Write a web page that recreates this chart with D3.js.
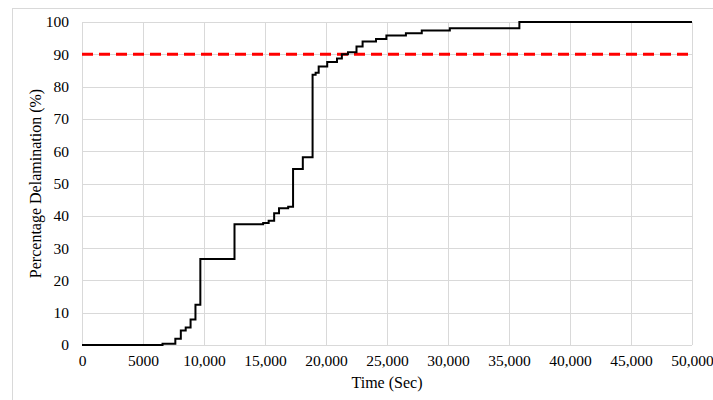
<!DOCTYPE html>
<html>
<head>
<meta charset="utf-8">
<script src="https://cdn.jsdelivr.net/npm/d3@7"></script>
<style>
  html, body { margin: 0; padding: 0; background: #fff; }
  svg { display: block; }
</style>
</head>
<body>
<svg id="chart" width="713" height="400"></svg>
<script>
// ---- data ----
const times = [0, 6600, 7650, 8100, 8500, 8900, 9300, 9700, 12500, 14850, 15300, 15750, 16150, 16900, 17300, 18100, 18900, 19150, 19400, 20100, 20900, 21300, 21800, 22500, 23000, 24100, 24950, 26550, 27850, 30150, 35850, 50000];
const delamination = [0, 0.4, 1.9, 4.5, 5.4, 7.9, 12.5, 26.6, 37.4, 37.8, 38.5, 40.8, 42.3, 42.8, 54.5, 58.1, 83.7, 84.3, 86.2, 87.6, 88.7, 90.0, 90.6, 92.4, 94.0, 94.7, 95.8, 96.5, 97.4, 98.1, 100, 100];
const threshold = 90;
const xTicks = [0, 5000, 10000, 15000, 20000, 25000, 30000, 35000, 40000, 45000, 50000];
const xTickLabels = ["0", "5000", "10,000", "15,000", "20,000", "25,000", "30,000", "35,000", "40,000", "45,000", "50,000"];
const yTicks = [0, 10, 20, 30, 40, 50, 60, 70, 80, 90, 100];
const xTitle = "Time (Sec)";
const yTitle = "Percentage Delamination (%)";

(function () {
// ---- layout ----
const svg = d3.select("#chart");
const mLeft = 82, mRight = 692, mTop = 22, mBottom = 345;
const font = "'Liberation Serif', 'Times New Roman', serif";

const x = d3.scaleLinear().domain([0, 50000]).range([mLeft, mRight]);
const y = d3.scaleLinear().domain([0, 100]).range([mBottom, mTop]);

// outer chart border
svg.append("rect")
  .attr("x", 12.5).attr("y", 8.5).attr("width", 720).attr("height", 420)
  .attr("fill", "none").attr("stroke", "#d9d9d9").attr("stroke-width", 1);

// gridlines
svg.append("g").selectAll("line").data(yTicks).join("line")
  .attr("x1", mLeft).attr("x2", mRight)
  .attr("y1", d => Math.round(y(d)) + 0.5).attr("y2", d => Math.round(y(d)) + 0.5)
  .attr("stroke", "#d9d9d9").attr("stroke-width", 1);
svg.append("g").selectAll("line").data(xTicks).join("line")
  .attr("y1", mTop).attr("y2", mBottom)
  .attr("x1", d => Math.round(x(d)) + 0.5).attr("x2", d => Math.round(x(d)) + 0.5)
  .attr("stroke", "#d9d9d9").attr("stroke-width", 1);

// axes (labels only)
const xAxis = d3.axisBottom(x).tickValues(xTicks).tickSize(0).tickPadding(10)
  .tickFormat((d, i) => xTickLabels[i]);
const gx = svg.append("g").attr("transform", `translate(0,${mBottom})`).call(xAxis);
gx.select(".domain").remove();
gx.selectAll("text").attr("font-family", font).attr("font-size", 15.5).attr("fill", "#000");

const yAxis = d3.axisLeft(y).tickValues(yTicks).tickSize(0).tickPadding(13);
const gy = svg.append("g").attr("transform", `translate(${mLeft},0)`).call(yAxis);
gy.select(".domain").remove();
gy.selectAll("text").attr("font-family", font).attr("font-size", 15.5).attr("fill", "#000");

// threshold line
svg.append("line")
  .attr("x1", mLeft).attr("x2", mRight)
  .attr("y1", y(threshold)).attr("y2", y(threshold))
  .attr("stroke", "#ff0000").attr("stroke-width", 3)
  .attr("stroke-dasharray", "11,6");

// step curve
const pts = times.map((t, i) => [t, delamination[i]]);
const line = d3.line().x(d => x(d[0])).y(d => y(d[1])).curve(d3.curveStepAfter);
svg.append("path")
  .datum(pts)
  .attr("d", line)
  .attr("fill", "none").attr("stroke", "#000").attr("stroke-width", 2);

// titles
svg.append("text")
  .attr("x", (mLeft + mRight) / 2).attr("y", 388)
  .attr("text-anchor", "middle")
  .attr("font-family", font).attr("font-size", 16).attr("fill", "#000")
  .text(xTitle);
svg.append("text")
  .attr("transform", `translate(41,${(mTop + mBottom) / 2}) rotate(-90)`)
  .attr("text-anchor", "middle")
  .attr("font-family", font).attr("font-size", 16).attr("fill", "#000")
  .text(yTitle);
})();
</script>
</body>
</html>
